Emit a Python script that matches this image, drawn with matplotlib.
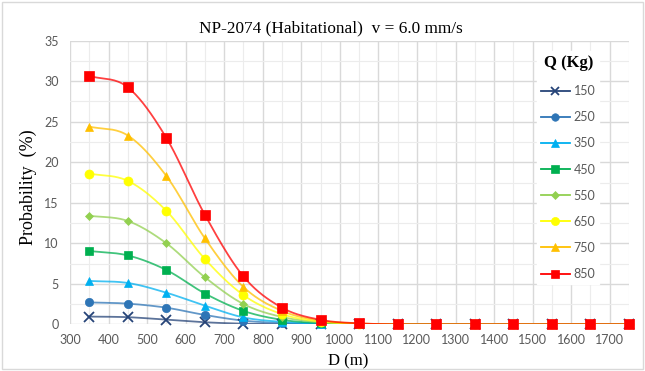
import numpy as np
import matplotlib.pyplot as plt
from matplotlib.ticker import MultipleLocator

distance = [350, 450, 550, 650, 750, 850, 950, 1050, 1150, 1250, 1350, 1450, 1550, 1650, 1750]
charges = ["150", "250", "350", "450", "550", "650", "750", "850"]

p150 = [0.95, 0.88, 0.57, 0.25, 0.08, 0.03, 0.01, 0, 0, 0, 0, 0, 0, 0, 0]
p250 = [2.7, 2.55, 2.05, 1.15, 0.45, 0.15, 0.04, 0.01, 0, 0, 0, 0, 0, 0, 0]
p350 = [5.35, 5.1, 3.9, 2.3, 0.85, 0.3, 0.08, 0.02, 0, 0, 0, 0, 0, 0, 0]
p450 = [9.05, 8.5, 6.7, 3.8, 1.65, 0.55, 0.15, 0.03, 0, 0, 0, 0, 0, 0, 0]
p550 = [13.4, 12.75, 10.0, 5.8, 2.5, 0.9, 0.25, 0.05, 0, 0, 0, 0, 0, 0, 0]
p650 = [18.6, 17.7, 14.0, 8.05, 3.6, 1.25, 0.33, 0.07, 0, 0, 0, 0, 0, 0, 0]
p750 = [24.4, 23.3, 18.3, 10.6, 4.6, 1.65, 0.45, 0.1, 0, 0, 0, 0, 0, 0, 0]
p850 = [30.65, 29.25, 23.0, 13.5, 5.9, 2.05, 0.55, 0.12, 0, 0, 0, 0, 0, 0, 0]

series = [p150, p250, p350, p450, p550, p650, p750, p850]
colors = ["#264478", "#2E75B6", "#00B0F0", "#00B050", "#92D050", "#FFFF00", "#FFC000", "#FF0000"]
markers = ["x", "o", "^", "s", "D", "o", "^", "s"]
msizes = [7, 6, 6, 6, 4.5, 6.5, 6, 6.5]


def smooth(x, y, n=20):
    # Catmull-Rom spline, like Excel's smoothed line
    x = np.asarray(x, float)
    y = np.asarray(y, float)
    px = np.concatenate([[2 * x[0] - x[1]], x, [2 * x[-1] - x[-2]]])
    py = np.concatenate([[2 * y[0] - y[1]], y, [2 * y[-1] - y[-2]]])
    xs, ys = [], []
    t = np.linspace(0, 1, n, endpoint=False)
    for i in range(1, len(px) - 2):
        for arr, out in ((px, xs), (py, ys)):
            p0, p1, p2, p3 = arr[i - 1], arr[i], arr[i + 1], arr[i + 2]
            out.extend(0.5 * (2 * p1 + (-p0 + p2) * t + (2 * p0 - 5 * p1 + 4 * p2 - p3) * t**2
                              + (-p0 + 3 * p1 - 3 * p2 + p3) * t**3))
    xs.append(x[-1])
    ys.append(y[-1])
    return np.array(xs), np.array(ys)


fig = plt.figure(figsize=(6.45, 3.71), dpi=100)
ax = fig.add_axes([70 / 645, 1 - 324.3 / 371, 559 / 645, 283.6 / 371])

handles = []
for vals, lab, c, m, ms in zip(series, charges, colors, markers, msizes):
    sx, sy = smooth(distance, vals)
    ax.plot(sx, sy, color=c, lw=1.3, alpha=0.75, zorder=2)
    mew = 1.3 if m == "x" else 0.5
    ax.plot(distance, vals, ls="none", marker=m, ms=ms, color=c, mec=c, mew=mew, zorder=3,
            clip_on=False)
    h, = ax.plot([], [], color=c, lw=1.3, marker=m, ms=ms * 0.9, mew=mew, label=lab)
    handles.append(h)

ax.set_xlim(300, 1750)
ax.set_ylim(0, 35)
ax.xaxis.set_major_locator(MultipleLocator(100))
ax.xaxis.set_minor_locator(MultipleLocator(50))
ax.yaxis.set_major_locator(MultipleLocator(5))
ax.yaxis.set_minor_locator(MultipleLocator(2.5))
ax.set_xticks(np.arange(300, 1701, 100))
ax.grid(True, which="major", color="#d9d9d9", lw=1.0, zorder=0)
ax.grid(True, which="minor", color="#ececec", lw=0.8, zorder=0)
ax.set_axisbelow(True)
for s in ax.spines.values():
    s.set_visible(False)
ax.tick_params(which="both", length=0, labelsize=9, labelcolor="#595959")
ax.tick_params(axis="x", pad=7)
ax.tick_params(axis="y", pad=8)
for t in ax.get_xticklabels() + ax.get_yticklabels():
    t.set_fontfamily("Lato")

fig.text(331 / 645, 1 - 28 / 371, "NP-2074 (Habitational)  v = 6.0 mm/s", ha="center", va="center",
         fontsize=12.4, family="Liberation Serif")
fig.text(348 / 645, 1 - 361 / 371, "D (m)", ha="center", va="center", fontsize=12,
         family="Liberation Serif")
fig.text(28 / 645, 1 - 187 / 371, "Probability  (%)", ha="center", va="center", rotation=90,
         fontsize=13, family="Liberation Serif")

leg = ax.legend(handles=handles, title="Q (Kg)", loc="upper left",
                bbox_to_anchor=(531 / 645, 1 - 45 / 371), bbox_transform=fig.transFigure,
                frameon=True, fancybox=False, edgecolor="white", facecolor="white", framealpha=1,
                prop={"family": "Lato", "size": 9}, labelspacing=1.13, handlelength=2.3,
                handletextpad=0.3, borderpad=0.3)
leg.get_title().set_fontfamily("Liberation Serif")
leg.get_title().set_fontsize(12)
leg.get_title().set_fontweight("bold")
for t in leg.get_texts():
    t.set_color("#595959")

fig.patches.append(plt.Rectangle((2 / 645, 2 / 371), 641 / 645, 367 / 371, transform=fig.transFigure,
                                 fill=False, edgecolor="#d9d9d9", lw=1))

fig.savefig("out.png", dpi=100)
